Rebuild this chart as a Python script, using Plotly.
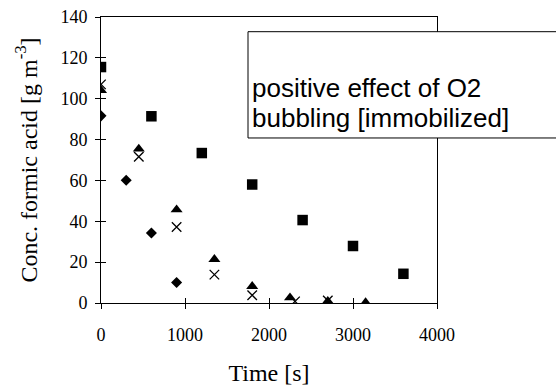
import plotly.graph_objects as go

# Formic acid concentration over time, four runs
t_square = [0, 600, 1200, 1800, 2400, 3000, 3600]
c_square = [115.5, 91.4, 73.4, 58.0, 40.6, 27.9, 14.3]

t_diamond = [0, 300, 600, 900]
c_diamond = [91.6, 60.1, 34.3, 10.0]

t_triangle = [0, 450, 900, 1350, 1800, 2250, 2700, 3150]
c_triangle = [104.1, 75.4, 45.7, 21.4, 8.2, 2.6, 0.9, 0.2]

t_cross = [0, 450, 900, 1350, 1800, 2310, 2700]
c_cross = [107.0, 71.6, 37.2, 13.9, 3.8, 0.8, 1.2]

x_ticks = [0, 1000, 2000, 3000, 4000]
y_ticks = [0, 20, 40, 60, 80, 100, 120, 140]

note_lines = ["positive effect of O2", "bubbling [immobilized]"]

SERIF = "Liberation Serif"
SANS = "Liberation Sans"

fig = go.Figure()

fig.add_trace(go.Scatter(x=t_square, y=c_square, mode="markers",
                         marker=dict(symbol="square", size=10.5, color="black"),
                         showlegend=False))
fig.add_trace(go.Scatter(x=t_diamond, y=c_diamond, mode="markers",
                         marker=dict(symbol="diamond", size=8.5, color="black"),
                         showlegend=False))
fig.add_trace(go.Scatter(x=t_triangle, y=c_triangle, mode="markers",
                         marker=dict(symbol="triangle-up", size=10.5, color="black"),
                         showlegend=False))
fig.add_trace(go.Scatter(x=t_cross, y=c_cross, mode="markers",
                         marker=dict(symbol="x-thin-open", size=9.5, color="black",
                                     line=dict(width=1.3, color="black")),
                         showlegend=False))
# empty trace so the overlay axes (inner tick halves) get drawn
fig.add_trace(go.Scatter(x=[None], y=[None], xaxis="x2", yaxis="y2", showlegend=False,
                         hoverinfo="skip"))

axis_common = dict(showgrid=False, zeroline=False, showline=True, automargin=False,
                   linecolor="black", linewidth=1, mirror=True,
                   ticks="outside", ticklen=5, tickwidth=1, tickcolor="black",
                   tickfont=dict(family=SERIF, size=18, color="black"))

fig.update_layout(
    width=556, height=386,
    margin=dict(l=101, r=119, t=17, b=83),
    paper_bgcolor="white", plot_bgcolor="white",
    xaxis=dict(range=[0, 4000], tickvals=x_ticks, ticklabelstandoff=10,
               title=dict(text="Time [s]", standoff=20,
                          font=dict(family=SERIF, size=24, color="black")),
               **axis_common),
    yaxis=dict(range=[0, 140], tickvals=y_ticks, ticklabelstandoff=4,
               title=dict(text="Conc. formic acid [g m<sup>-3</sup>]", standoff=16,
                          font=dict(family=SERIF, size=24, color="black")),
               **axis_common),
    xaxis2=dict(range=[0, 4000], tickvals=x_ticks, overlaying="x", anchor="y",
                side="bottom", ticks="inside", ticklen=5, tickcolor="black",
                automargin=False, showticklabels=False, showgrid=False,
                zeroline=False, showline=False),
    yaxis2=dict(range=[0, 140], tickvals=y_ticks, overlaying="y", anchor="x",
                side="left", ticks="inside", ticklen=5, tickcolor="black",
                automargin=False, showticklabels=False, showgrid=False,
                zeroline=False, showline=False),
)

# text box over the upper right of the plot
fig.add_shape(type="rect", xref="paper", yref="paper",
              x0=0.4375, x1=1.5, y0=0.577, y1=0.9486,
              line=dict(color="black", width=1), fillcolor="white", layer="above")

for line_text, y_mid in zip(note_lines, [0.7517, 0.6469]):
    fig.add_annotation(xref="paper", yref="paper", x=0.443, y=y_mid,
                       xanchor="left", yanchor="middle", align="left", showarrow=False,
                       text=line_text,
                       font=dict(family=SANS, size=26, color="black"))

fig.write_html("out.html")
